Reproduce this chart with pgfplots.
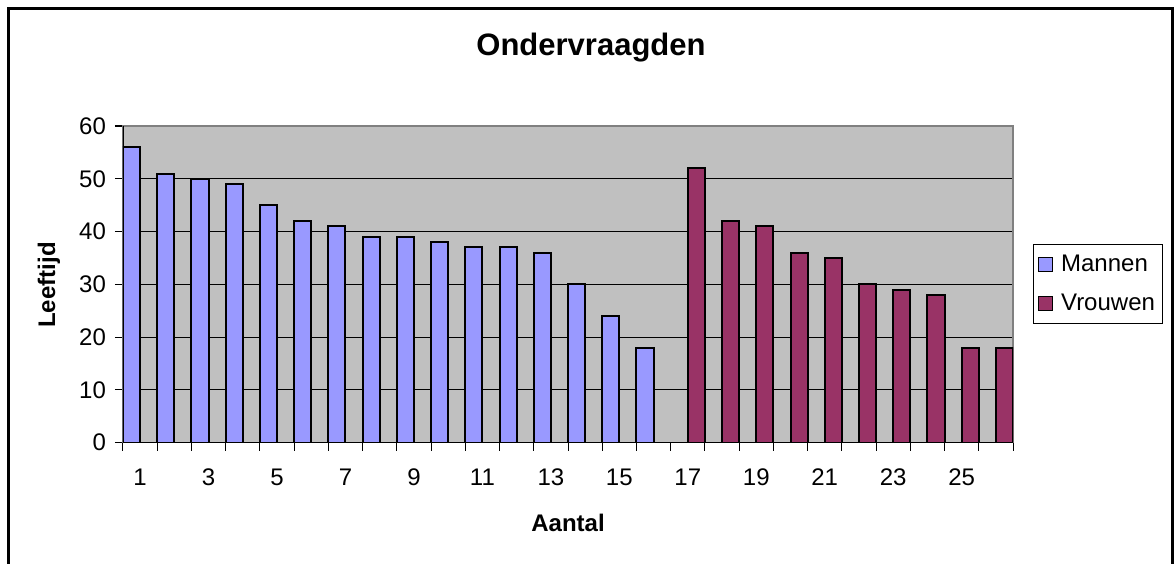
\documentclass[border=0pt]{standalone}
\usepackage{fontspec}
\setmainfont{Liberation Sans}
\usepackage{pgfplots}
\pgfplotsset{compat=1.18}

\definecolor{plotgray}{HTML}{C0C0C0}
\definecolor{mannen}{HTML}{9999FF}
\definecolor{vrouwen}{HTML}{993366}

\begin{document}
\begin{tikzpicture}
% page = 1174x563 px at 0.5pt/px, origin at the axis' lower left corner
\useasboundingbox (-61.5pt,-60.15pt) rectangle (525.5pt,221.35pt);
\draw[line width=1.4pt] (-57.25pt,-80pt) -- (-57.25pt,217pt) -- (524.9pt,217pt) -- (524.9pt,-80pt);

\begin{axis}[
    at={(0pt,0pt)}, anchor=south west,
    scale only axis, width=445pt, height=158.35pt,
    ybar,
    xmin=0.5, xmax=26.5, ymin=0, ymax=60,
    axis background/.style={fill=plotgray},
    axis line style={draw=gray, line width=0.6pt},
    ytick={0,10,...,60},
    ymajorgrids, grid style={black, line width=0.5pt},
    xtick={0.5,1.5,...,26.5}, xticklabels={},
    extra x ticks={1,3,...,25},
    extra x tick labels={1,3,5,7,9,11,13,15,17,19,21,23,25},
    extra x tick style={major tick length=0pt, grid=none,
        tick label style={yshift=-9.5pt}},
    tick align=outside, tick pos=left, major tick length=4pt,
    tick style={black, line width=0.5pt},
    /pgf/number format/assume math mode=true,
    tick label style={font=\fontsize{12}{14}\selectfont},
    yticklabel style={xshift=-1pt},
    legend style={at={(rel axis cs:1.0225,0.6274)}, anchor=north west,
        draw=black, line width=0.5pt, fill=white,
        font=\fontsize{12}{14}\selectfont,
        inner xsep=2pt, inner ysep=3pt, row sep=6pt},
    legend cell align=left,
    legend image code/.code={\draw[#1, line width=0.6pt] (0pt,-3.5pt) rectangle (7pt,3.5pt);
        \path (9pt,0pt);},
]
\addplot[fill=mannen, draw=black, line width=1pt, bar width=8.558pt, bar shift=-4.279pt] coordinates
  {(1,56) (2,51) (3,50) (4,49) (5,45) (6,42) (7,41) (8,39) (9,39) (10,38)
   (11,37) (12,37) (13,36) (14,30) (15,24) (16,18)};
\addplot[fill=vrouwen, draw=black, line width=1pt, bar width=8.558pt, bar shift=4.279pt] coordinates
  {(17,52) (18,42) (19,41) (20,36) (21,35) (22,30) (23,29) (24,28) (25,18) (26,18)};
\legend{Mannen, Vrouwen}
\draw[black, line width=0.6pt] (rel axis cs:0,1) -- (rel axis cs:0,0) -- (rel axis cs:1,0);
\end{axis}

\node[font=\fontsize{15.5}{18}\bfseries\selectfont] at (234pt,197.35pt) {Ondervraagden};
\node[font=\fontsize{12}{14}\bfseries\selectfont] at (222.5pt,-40.15pt) {Aantal};
\node[font=\fontsize{12}{14}\bfseries\selectfont, rotate=90] at (-37pt,78.85pt) {Leeftijd};
\end{tikzpicture}
\end{document}
